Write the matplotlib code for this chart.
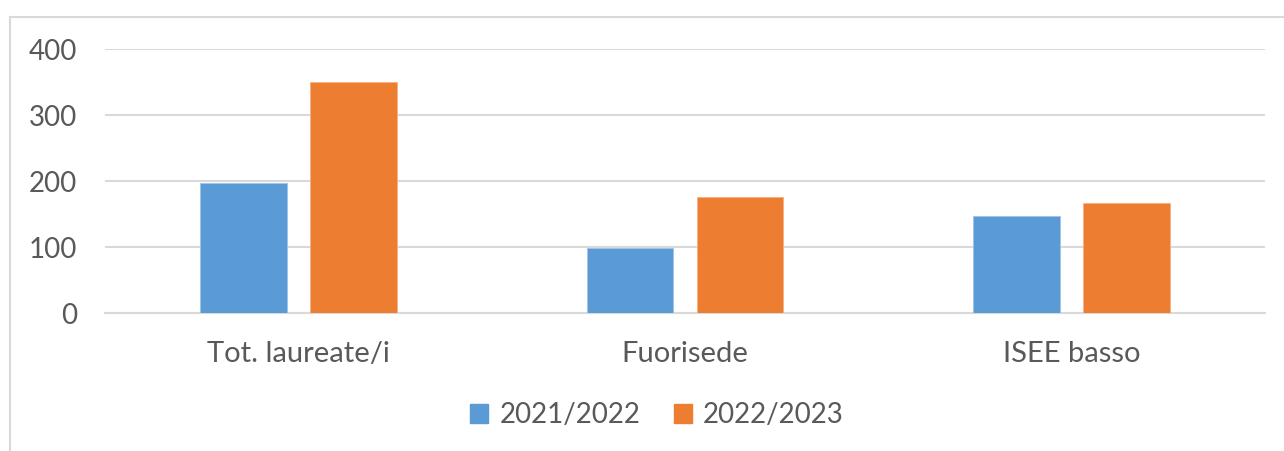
import numpy as np
import matplotlib.pyplot as plt
from matplotlib.lines import Line2D
from matplotlib.patches import Patch

# Dati
categorie = ['Tot. laureate/i', 'Fuorisede', 'ISEE basso']
serie = ['2021/2022', '2022/2023']
val_2122 = [198, 99, 147]
val_2223 = [350, 176, 167]

blu = '#5B9BD5'
arancio = '#ED7D31'
grigio_testo = '#595959'
grigio_griglia = '#D9D9D9'

plt.rcParams['font.family'] = ['Lato', 'DejaVu Sans']

W, H = 1284, 451
fig = plt.figure(figsize=(W / 100, H / 100), dpi=100)
ax = fig.add_axes([105 / W, 1 - 313.3 / H, (1265 - 105) / W, (313.3 - 49.3) / H])

x = np.arange(len(categorie))
bw = 0.224
off = 0.142
ax.bar(x - off, val_2122, bw, color=blu, edgecolor='#9DC3E6', linewidth=0.6, zorder=3)
ax.bar(x + off, val_2223, bw, color=arancio, edgecolor='#F4B183', linewidth=0.6, zorder=3)

ax.set_xlim(-0.5, 2.5)
ax.set_ylim(0, 400)
ax.set_yticks([0, 100, 200, 300, 400])
ax.yaxis.grid(True, color=grigio_griglia, linewidth=1.5, zorder=0)
ax.set_xticks(x)
ax.set_xticklabels(categorie)
ax.tick_params(axis='both', length=0, colors=grigio_testo)
ax.tick_params(axis='y', labelsize=20, pad=20)
ax.tick_params(axis='x', labelsize=21, pad=20)
for s in ['top', 'right', 'left']:
    ax.spines[s].set_visible(False)
ax.spines['bottom'].set_color(grigio_griglia)
ax.spines['bottom'].set_linewidth(1.5)

handles = [Patch(color=blu, label=serie[0]), Patch(color=arancio, label=serie[1])]
fig.legend(handles=handles, loc='center', bbox_to_anchor=(657 / W, 1 - 415 / H),
           ncol=2, frameon=False, fontsize=20, labelcolor=grigio_testo,
           handlelength=0.65, handleheight=0.65, handletextpad=0.4, columnspacing=1.2)

# cornice del grafico
fig.add_artist(Line2D([9.5 / W, 1], [1 - 17 / H, 1 - 17 / H], color=grigio_griglia, lw=1.5))
fig.add_artist(Line2D([9.5 / W, 9.5 / W], [0, 1 - 17 / H], color=grigio_griglia, lw=1.5))

fig.savefig('out.png', dpi=100)
